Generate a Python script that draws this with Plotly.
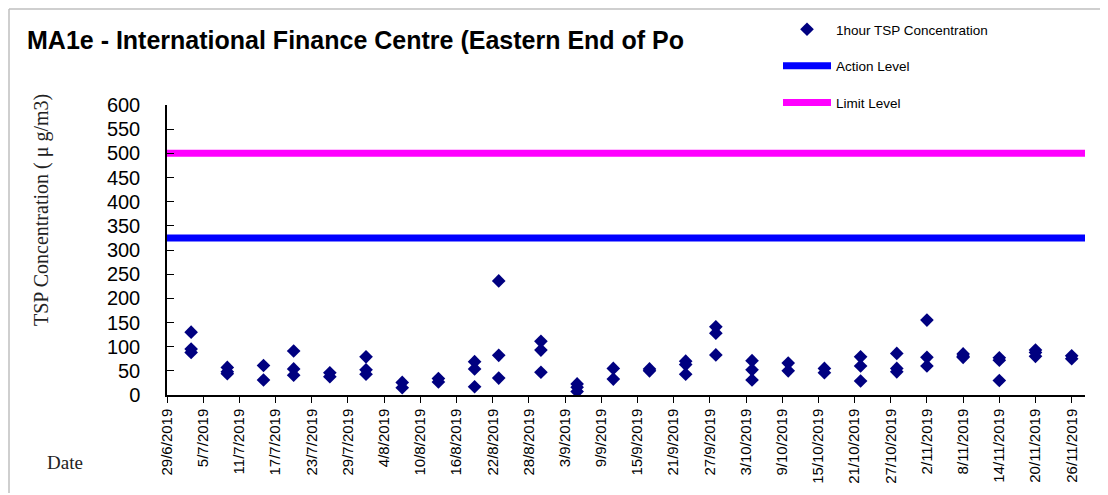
import plotly.graph_objects as go
from datetime import date, timedelta

# ---------------- data ----------------
sample_dates = (
    ["2019-07-03"] * 3 + ["2019-07-09"] * 3 + ["2019-07-15"] * 2 + ["2019-07-20"] * 3 +
    ["2019-07-26"] * 2 + ["2019-08-01"] * 3 + ["2019-08-07"] * 2 + ["2019-08-13"] * 2 +
    ["2019-08-19"] * 3 + ["2019-08-23"] * 3 + ["2019-08-30"] * 3 + ["2019-09-05"] * 3 +
    ["2019-09-11"] * 2 + ["2019-09-17"] * 2 + ["2019-09-23"] * 3 + ["2019-09-28"] * 3 +
    ["2019-10-04"] * 3 + ["2019-10-10"] * 2 + ["2019-10-16"] * 2 + ["2019-10-22"] * 3 +
    ["2019-10-28"] * 3 + ["2019-11-02"] * 3 + ["2019-11-08"] * 3 + ["2019-11-14"] * 3 +
    ["2019-11-20"] * 3 + ["2019-11-26"] * 2
)
tsp_values = [
    130, 95, 88,
    57, 48, 44,
    61, 31,
    91, 54, 41,
    46, 38,
    79, 52, 43,
    26, 15,
    34, 27,
    69, 54, 17,
    236, 82, 35,
    111, 93, 47,
    23, 16, 7,
    55, 33,
    54, 50,
    70, 63, 43,
    141, 128, 83,
    71, 52, 31,
    66, 50,
    55, 46,
    79, 60, 29,
    86, 55, 48,
    155, 78, 60,
    85, 80, 78,
    77, 72, 30,
    93, 88, 80,
    81, 75,
]
action_level = 325
limit_level = 500
x_range = ["2019-06-29", "2019-11-28 05:00"]

tick_start = date(2019, 6, 29)
tick_dates = [tick_start + timedelta(days=6 * i) for i in range(26)]
tick_vals = [d.isoformat() for d in tick_dates]
tick_text = [f"{d.day}/{d.month}/{d.year}" for d in tick_dates]
y_ticks = list(range(0, 601, 50))

# ---------------- figure ----------------
fig = go.Figure()
fig.add_trace(go.Scatter(
    x=sample_dates, y=tsp_values, mode="markers", name="1hour TSP Concentration",
    marker=dict(symbol="diamond", size=10.5, color="#000080", line=dict(width=0)),
    legendgroup="a",
))
fig.add_trace(go.Scatter(
    x=x_range, y=[action_level, action_level], mode="lines", name="Action Level",
    line=dict(color="#0000FF", width=7), legendgroup="b",
))
fig.add_trace(go.Scatter(
    x=x_range, y=[limit_level, limit_level], mode="lines", name="Limit Level",
    line=dict(color="#FF00FF", width=7), legendgroup="c",
))

OFF = 8  # page body margin
W, H = 1100, 487
L, R, T, B = 159, 23, 97, 100
pw, ph = W - L - R, H - T - B


def px(xpage):
    return (xpage - OFF - L) / pw


def py(ypage):
    return (H - B - (ypage - OFF)) / ph


fig.update_layout(
    width=W, height=H,
    margin=dict(l=L, r=R, t=T, b=B, autoexpand=False),
    paper_bgcolor="white", plot_bgcolor="white",
    font=dict(family="Arial, Liberation Sans, sans-serif", color="black"),
    title=dict(
        text="<b>MA1e - International Finance Centre (Eastern End of Po</b>",
        x=(27 - OFF) / W, xanchor="left", xref="container",
        y=1 - (40 - OFF) / H, yanchor="middle", yref="container",
        font=dict(size=25, color="black"),
    ),
    showlegend=True,
    legend=dict(
        x=px(778), y=py(14), xanchor="left", yanchor="top",
        font=dict(size=13.5, color="black"),
        traceorder="grouped", tracegroupgap=16, itemwidth=48,
        bgcolor="rgba(0,0,0,0)",
    ),
    xaxis=dict(
        type="date", range=x_range, automargin=False,
        tickmode="array", tickvals=tick_vals, ticktext=tick_text,
        tickangle=-90, tickfont=dict(size=15),
        ticks="outside", ticklen=6, tickcolor="black",
        showline=True, linecolor="black", linewidth=1.5,
        showgrid=False, zeroline=False,
    ),
    yaxis=dict(
        range=[0, 600], tickmode="array", tickvals=y_ticks, automargin=False,
        tickfont=dict(size=20),
        ticks="inside", ticklen=7, tickcolor="black",
        ticklabelstandoff=21,
        showline=True, linecolor="black", linewidth=1.5,
        showgrid=False, zeroline=False,
    ),
    annotations=[
        dict(
            text="TSP Concentration ( \u03bc g/m3)", textangle=-90,
            xref="paper", yref="paper", x=px(41), y=py(210),
            xanchor="center", yanchor="middle", showarrow=False,
            font=dict(family="Liberation Serif, Times New Roman, serif", size=20, color="#222"),
        ),
        dict(
            text="Date", xref="paper", yref="paper", x=px(65), y=py(462),
            xanchor="center", yanchor="middle", showarrow=False,
            font=dict(family="Liberation Serif, Times New Roman, serif", size=19, color="#222"),
        ),
    ],
    shapes=[
        dict(type="line", xref="paper", yref="paper", x0=px(9), x1=px(9), y0=py(493), y1=py(9),
             line=dict(color="#BFBFBF", width=1.5)),
        dict(type="line", xref="paper", yref="paper", x0=px(9), x1=px(1108), y0=py(9), y1=py(9),
             line=dict(color="#BFBFBF", width=1.5)),
    ],
)

fig.write_html("out.html")
